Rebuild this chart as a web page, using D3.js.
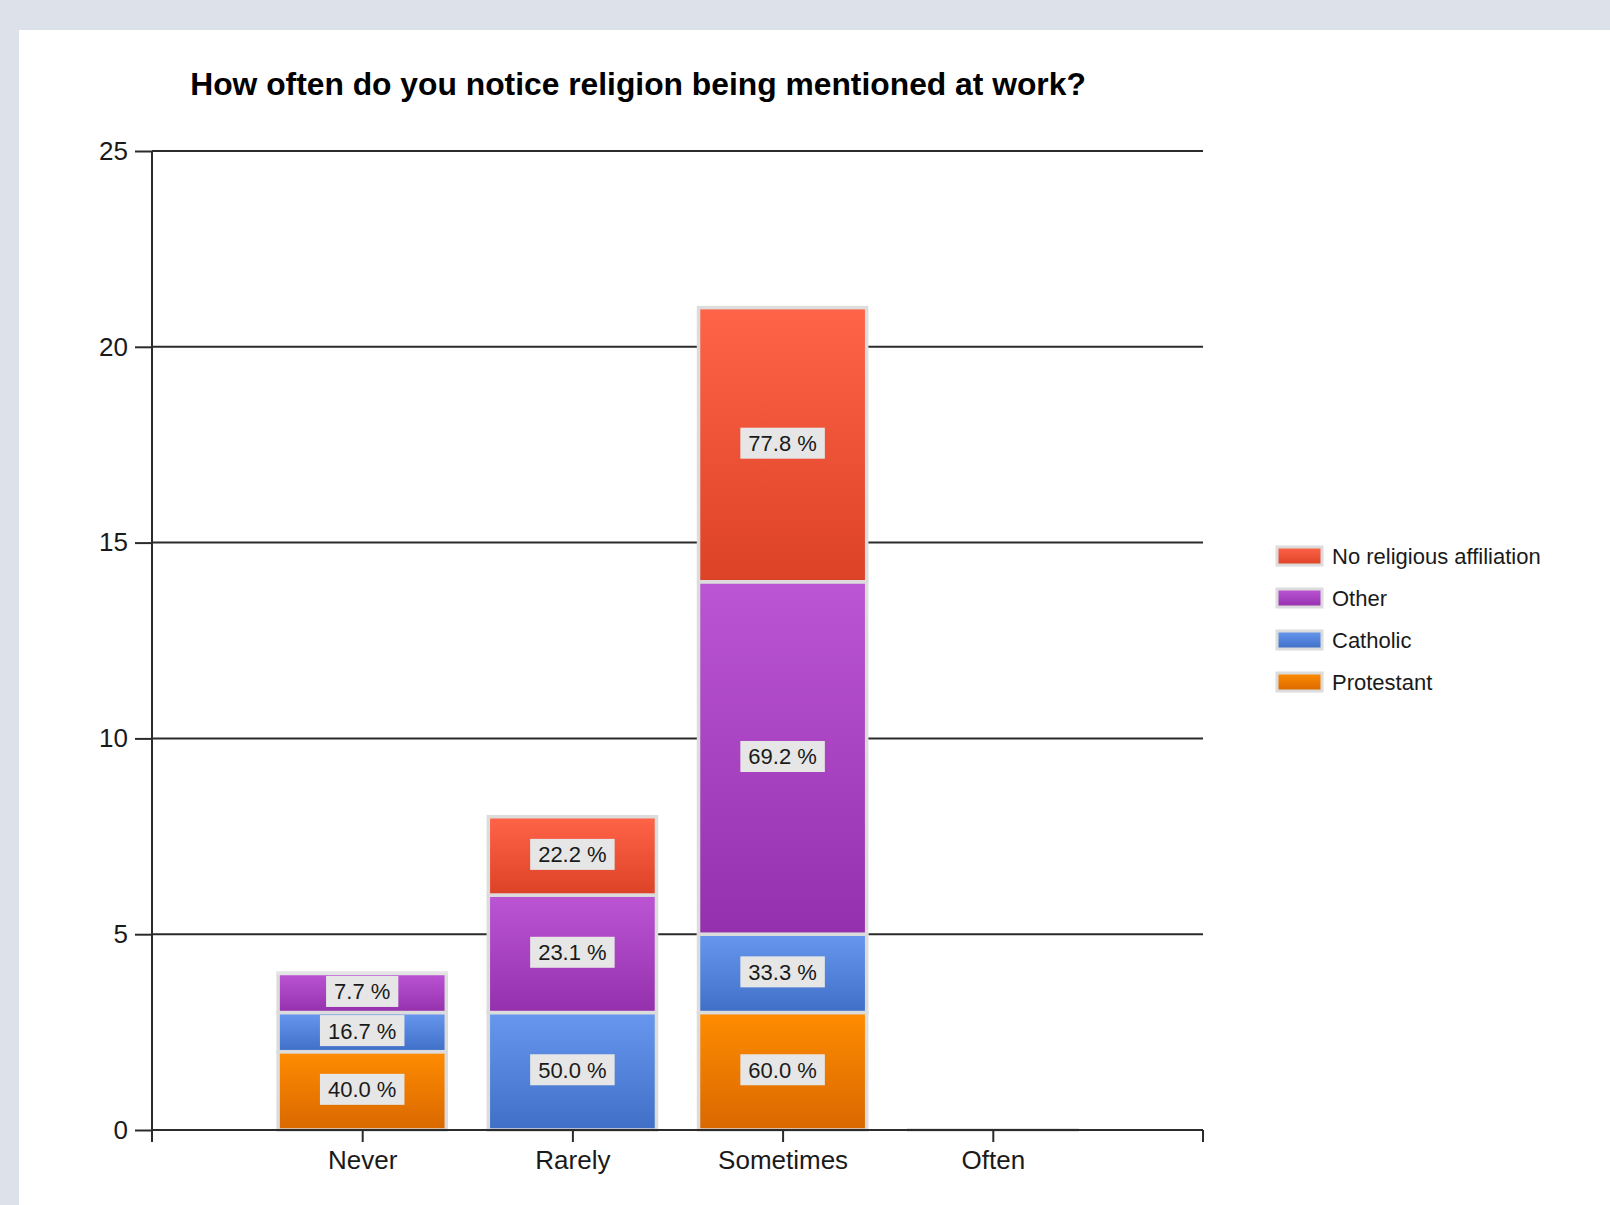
<!DOCTYPE html>
<html>
<head>
<meta charset="utf-8">
<script src="https://cdn.jsdelivr.net/npm/d3@7"></script>
<style>
  html, body { margin: 0; padding: 0; background: #dde1ea; }
  svg { display: block; }
  text { font-family: "Liberation Sans", Arial, sans-serif; }
</style>
</head>
<body>
<svg id="chart" width="1610" height="1205"></svg>
<script>
// ---- data ----
const categories = ["Never", "Rarely", "Sometimes", "Often"];
const seriesNames = ["Protestant", "Catholic", "Other", "No religious affiliation"];
const protestant = [2, 0, 3, 0];
const catholic = [1, 3, 2, 0];
const other = [1, 3, 9, 0];
const noReligion = [0, 2, 7, 0];
const yTicks = [0, 5, 10, 15, 20, 25];
const titleText = "How often do you notice religion being mentioned at work?";

const seriesValues = [protestant, catholic, other, noReligion];
const colorTop = ["#ff8c00", "#6797ee", "#bb55d4", "#ff6448"];
const colorBottom = ["#d96800", "#3f6fc6", "#9530ad", "#dc4226"];

const table = categories.map((c, i) => {
  const row = { category: c };
  seriesNames.forEach((s, k) => row[s] = seriesValues[k][i]);
  return row;
});
const totals = seriesValues.map(v => d3.sum(v));

const svg = d3.select("#chart");

// white panel
svg.append("rect").attr("x", 19).attr("y", 30).attr("width", 1610 - 19).attr("height", 1205 - 30).attr("fill", "#ffffff");

// gradients
const defs = svg.append("defs");
seriesNames.forEach((s, k) => {
  const g = defs.append("linearGradient").attr("id", "grad" + k)
    .attr("x1", 0).attr("y1", 0).attr("x2", 0).attr("y2", 1);
  g.append("stop").attr("offset", "0%").attr("stop-color", colorTop[k]);
  g.append("stop").attr("offset", "100%").attr("stop-color", colorBottom[k]);
});

const x0 = 152, x1 = 1203, yBottom = 1130, yTop = 151;
const x = d3.scalePoint().domain(categories).range([x0, x1]).padding(1);
const y = d3.scaleLinear().domain([0, 25]).range([yBottom, yTop]);

// title
const title = svg.append("text")
  .attr("x", 638).attr("y", 95)
  .attr("text-anchor", "middle")
  .attr("font-weight", "bold")
  .attr("font-size", 30)
  .attr("fill", "#000")
  .text(titleText);
const tw = title.node().getComputedTextLength();
title.attr("font-size", 30 * 896 / tw);

// grid lines
svg.append("g").selectAll("line").data(yTicks.filter(t => t > 0)).join("line")
  .attr("x1", x0).attr("x2", x1)
  .attr("y1", d => y(d)).attr("y2", d => y(d))
  .attr("stroke", "#2b2b2b").attr("stroke-width", 2);

// y axis
const yAxis = svg.append("g").attr("transform", `translate(${x0},0)`)
  .call(d3.axisLeft(y).tickValues(yTicks).tickSize(17).tickPadding(7).tickSizeOuter(0));
yAxis.select(".domain").remove();
yAxis.selectAll(".tick line").attr("stroke", "#2b2b2b").attr("stroke-width", 2);
yAxis.selectAll(".tick text").attr("font-size", 26).attr("fill", "#1a1a1a")
  .attr("font-family", "'Liberation Sans', Arial, sans-serif");

// bars
const stack = d3.stack().keys(seriesNames)(table);
const step = x.step();
const barW = step * 0.8;
const barsG = svg.append("g");
stack.forEach((layer, k) => {
  barsG.append("g").selectAll("rect").data(layer).join("rect")
    .attr("x", d => x(d.data.category) - barW / 2)
    .attr("width", barW)
    .attr("y", d => y(d[1]) - (d[1] === d[0] ? 0.05 : 0))
    .attr("height", d => Math.max(0.1, y(d[0]) - y(d[1])))
    .attr("fill", `url(#grad${k})`)
    .attr("stroke", d => d[1] === d[0] ? "#e4e4e4" : "#dcdcdc")
    .attr("stroke-width", 3.5);
});

// labels
const fmt = d3.format(".1f");
const labG = svg.append("g");
stack.forEach((layer, k) => {
  layer.forEach((d, i) => {
    const v = seriesValues[k][i];
    if (v <= 0) return;
    const cx = x(d.data.category);
    const cy = (y(d[0]) + y(d[1])) / 2 - 1.5;
    const g = labG.append("g");
    const box = g.append("rect").attr("fill", "#e6e6e6");
    const t = g.append("text")
      .attr("x", cx).attr("y", cy + 8)
      .attr("text-anchor", "middle")
      .attr("font-size", 22)
      .attr("fill", "#1a1a1a")
      .text(fmt(v / totals[k] * 100) + " %");
    const w = t.node().getComputedTextLength();
    const h = 31;
    const segH = y(d[0]) - y(d[1]);
    const bh = Math.min(h, segH - 6);
    box.attr("x", cx - w / 2 - 8).attr("width", w + 16)
      .attr("y", cy - bh / 2).attr("height", bh);
  });
});

// x axis
svg.append("line").attr("x1", x0).attr("x2", x1).attr("y1", yBottom).attr("y2", yBottom)
  .attr("stroke", "#2b2b2b").attr("stroke-width", 2);
svg.append("line").attr("x1", x0).attr("x2", x0).attr("y1", yTop).attr("y2", yBottom + 12)
  .attr("stroke", "#2b2b2b").attr("stroke-width", 2);
const xAxis = svg.append("g").attr("transform", `translate(0,${yBottom})`)
  .call(d3.axisBottom(x).tickSize(12).tickPadding(9).tickSizeOuter(0));
xAxis.select(".domain").remove();
xAxis.selectAll(".tick line").attr("stroke", "#2b2b2b").attr("stroke-width", 2);
xAxis.selectAll(".tick text").attr("font-size", 26).attr("fill", "#1a1a1a")
  .attr("font-family", "'Liberation Sans', Arial, sans-serif");
svg.append("line").attr("x1", x1).attr("x2", x1).attr("y1", yBottom).attr("y2", yBottom + 12)
  .attr("stroke", "#2b2b2b").attr("stroke-width", 2);

// legend
const legendOrder = d3.range(seriesNames.length).reverse();
const lg = svg.append("g").attr("transform", "translate(1277,556)");
legendOrder.forEach((k, j) => {
  const row = lg.append("g").attr("transform", `translate(0,${j * 42})`);
  row.append("rect").attr("x", 0).attr("y", -9).attr("width", 45).attr("height", 18)
    .attr("fill", `url(#grad${k})`).attr("stroke", "#dcdcdc").attr("stroke-width", 3);
  row.append("text").attr("x", 55).attr("y", 8)
    .attr("font-size", 22).attr("fill", "#1a1a1a")
    .text(seriesNames[k]);
});
</script>
</body>
</html>
